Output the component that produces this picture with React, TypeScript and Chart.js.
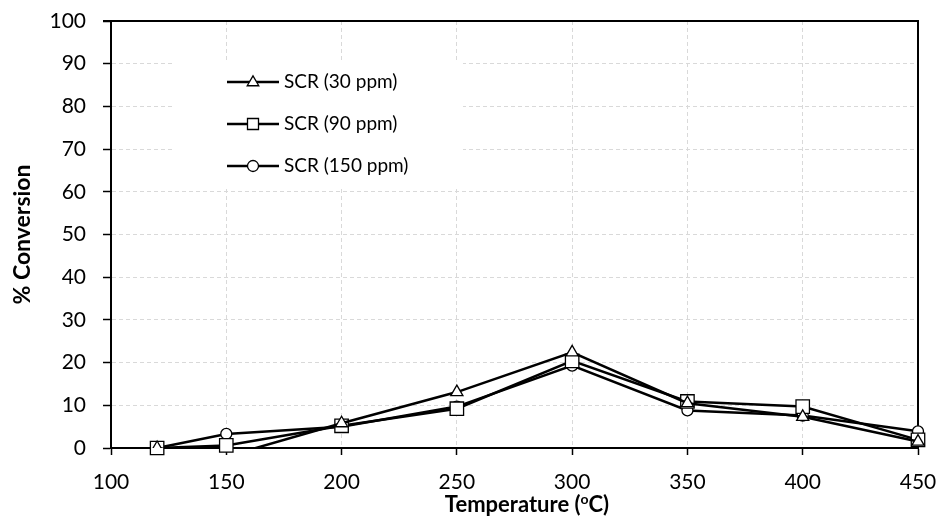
import React, { useEffect, useRef } from "react";
import { Chart, registerables } from "chart.js";

Chart.register(...registerables);

// ---- data ----
const temperatures = [120, 150, 200, 250, 300, 350, 400, 450];
const scr30 = [0, -2, 5.8, 13.1, 22.4, 10.5, 7.3, 1.5];
const scr90 = [0, 0.6, 5.2, 9.2, 20.4, 10.9, 9.7, 1.9];
const scr150 = [0, 3.3, 5.0, 9.7, 19.3, 8.8, 7.6, 3.9];
const seriesLabels = ["SCR (30 ppm)", "SCR (90 ppm)", "SCR (150 ppm)"];
const seriesMarkers = ["triangle", "rect", "circle"];
const xTickValues = [100, 150, 200, 250, 300, 350, 400, 450];
const yTickValues = [0, 10, 20, 30, 40, 50, 60, 70, 80, 90, 100];
const yTitle = "% Conversion";
const xTitleParts = ["Temperature (", "o", "C)"];

const FONT = "Lato, 'Open Sans', sans-serif";

function drawMarker(ctx: CanvasRenderingContext2D, style: string, x: number, y: number, r: number) {
  ctx.beginPath();
  if (style === "circle") {
    ctx.arc(x, y, r, 0, Math.PI * 2);
  } else if (style === "rect") {
    ctx.rect(x - r, y - r, 2 * r, 2 * r);
  } else {
    const h = r * 1.8;
    ctx.moveTo(x, y - h * 0.62);
    ctx.lineTo(x + r * 1.05, y + h * 0.38);
    ctx.lineTo(x - r * 1.05, y + h * 0.38);
    ctx.closePath();
  }
  ctx.fillStyle = "#fff";
  ctx.fill();
  ctx.lineWidth = 1.3;
  ctx.strokeStyle = "#000";
  ctx.stroke();
}

const framePlugin = {
  id: "frame",
  beforeDatasetsDraw(chart: any) {
    const { ctx, chartArea: a } = chart;
    ctx.save();
    ctx.strokeStyle = "#000";
    ctx.lineWidth = 2;
    ctx.beginPath();
    ctx.moveTo(a.left - 8, a.top);
    ctx.lineTo(a.right, a.top);
    ctx.lineTo(a.right, a.bottom);
    ctx.stroke();
    ctx.restore();
  },
  afterDraw(chart: any) {
    const { ctx } = chart;
    ctx.save();
    // legend box
    ctx.fillStyle = "#fff";
    ctx.fillRect(175, 60, 288, 127);
    const ys = [82, 124, 166];
    seriesLabels.forEach((lab, i) => {
      const y = ys[i];
      ctx.strokeStyle = "#000";
      ctx.lineWidth = 2.5;
      ctx.beginPath();
      ctx.moveTo(227, y);
      ctx.lineTo(279, y);
      ctx.stroke();
      drawMarker(ctx, seriesMarkers[i], 253, y, 5.5);
      ctx.fillStyle = "#000";
      ctx.font = `19px ${FONT}`;
      ctx.textAlign = "left";
      ctx.textBaseline = "middle";
      ctx.fillText(lab, 284, y);
    });
    // x-axis title with superscript
    const big = `bold 22px ${FONT}`;
    const small = `bold 14px ${FONT}`;
    ctx.font = big;
    const w0 = ctx.measureText(xTitleParts[0]).width;
    const w2 = ctx.measureText(xTitleParts[2]).width;
    ctx.font = small;
    const w1 = ctx.measureText(xTitleParts[1]).width;
    const total = w0 + w1 + w2;
    let x = 527 - total / 2;
    const yb = 512;
    ctx.textAlign = "left";
    ctx.textBaseline = "alphabetic";
    ctx.font = big;
    ctx.fillText(xTitleParts[0], x, yb);
    x += w0;
    ctx.font = small;
    ctx.fillText(xTitleParts[1], x, yb - 8);
    x += w1;
    ctx.font = big;
    ctx.fillText(xTitleParts[2], x, yb);
    ctx.restore();
  },
};

export default function App() {
  const ref = useRef<HTMLCanvasElement | null>(null);
  useEffect(() => {
    let chart: any = null;
    let cancelled = false;
    const make = () => {
      if (cancelled || !ref.current) return;
      const mk = (data: number[], i: number, r: number, clip: any) => ({
        label: seriesLabels[i],
        data: temperatures.map((t, k) => ({ x: t, y: data[k] })),
        borderColor: "#000",
        borderWidth: 2.5,
        backgroundColor: "#fff",
        pointStyle: seriesMarkers[i],
        pointRadius: r,
        pointBorderWidth: 1.3,
        pointBorderColor: "#000",
        pointBackgroundColor: "#fff",
        tension: 0,
        clip,
      });
      chart = new Chart(ref.current, {
        type: "line",
        data: {
          datasets: [
            mk(scr30, 0, 7, { left: false, right: false, top: false, bottom: 0 }),
            mk(scr90, 1, 9.5, false),
            mk(scr150, 2, 5.5, false),
          ],
        },
        options: {
          responsive: false,
          animation: false,
          devicePixelRatio: 1,
          layout: { padding: { left: 0, right: 25, top: 21, bottom: 0 } },
          plugins: { legend: { display: false }, tooltip: { enabled: false } },
          scales: {
            x: {
              type: "linear",
              min: 100,
              max: 450,
              afterBuildTicks: (s: any) => {
                s.ticks = xTickValues.map((v) => ({ value: v }));
              },
              afterFit: (s: any) => {
                s.height = 76;
                s.paddingLeft = 0;
                s.paddingRight = 0;
              },
              ticks: {
                color: "#000",
                font: { family: FONT, size: 21 },
                padding: 15,
                maxRotation: 0,
              },
              grid: {
                color: "#d9d9d9",
                lineWidth: 1,
                tickLength: 7,
                tickColor: "#000",
                tickWidth: 1.5,
                tickBorderDash: [],
              },
              border: { color: "#000", width: 2, dash: [4, 3] },
              title: { display: false },
            },
            y: {
              type: "linear",
              min: 0,
              max: 100,
              afterBuildTicks: (s: any) => {
                s.ticks = yTickValues.map((v) => ({ value: v }));
              },
              afterFit: (s: any) => {
                s.width = 111;
                s.paddingTop = 0;
                s.paddingBottom = 0;
              },
              ticks: {
                color: "#000",
                font: { family: FONT, size: 21 },
                padding: 17,
              },
              grid: {
                color: "#d9d9d9",
                lineWidth: 1,
                tickLength: 8,
                tickColor: "#000",
                tickWidth: 1.5,
                tickBorderDash: [],
              },
              border: { color: "#000", width: 2, dash: [4, 3] },
              title: {
                display: true,
                text: yTitle,
                color: "#000",
                font: { family: FONT, size: 23, weight: "bold" },
                padding: { top: 9, bottom: 0 },
              },
            },
          },
        },
        plugins: [framePlugin],
      } as any);
    };
    const fonts: any = (document as any).fonts;
    if (fonts && fonts.load) {
      Promise.all([fonts.load(`21px Lato`), fonts.load(`bold 19px Lato`)]).then(make, make);
    } else make();
    return () => {
      cancelled = true;
      if (chart) chart.destroy();
    };
  }, []);
  return (
    <div style={{ position: "absolute", left: 0, top: 0, width: 943, height: 524, background: "#fff" }}>
      <canvas ref={ref} width={943} height={524} />
    </div>
  );
}
